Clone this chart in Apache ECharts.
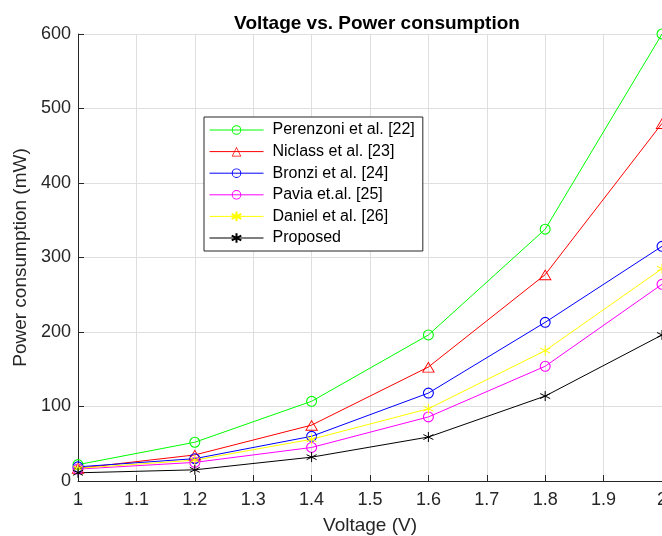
<!DOCTYPE html>
<html>
<head>
<meta charset="utf-8">
<script src="https://cdn.jsdelivr.net/npm/echarts@6/dist/echarts.min.js"></script>
<style>
  html, body { margin: 0; padding: 0; background: #fff; }
  #main { width: 662px; height: 536px; }
</style>
</head>
<body>
<div id="main"></div>
<script>
var voltage = [1.0, 1.2, 1.4, 1.6, 1.8, 2.0];

var perenzoni = [22, 52, 107, 196, 338, 600];
var niclass   = [17, 35, 75, 153, 277, 480];
var bronzi    = [19, 30, 60, 118, 213, 315];
var pavia     = [16, 25, 45, 86, 154, 264];
var daniel    = [17, 28, 56, 97, 175, 285];
var proposed  = [11, 15, 32, 59, 114, 196];

var names = ['Perenzoni et al. [22]', 'Niclass et al. [23]', 'Bronzi et al. [24]',
             'Pavia et.al. [25]', 'Daniel et al. [26]', 'Proposed'];

var font = 'Liberation Sans, Arial, sans-serif';

// hollow markers drawn as thin filled rings (matlab style, see-through)
var ring = 'path://M0,-10A10,10 0 1,1 0,10A10,10 0 1,1 0,-10ZM0,-8A8,8 0 1,0 0,8A8,8 0 1,0 0,-8Z';
var tri = 'path://M0,-10L8.66,5L-8.66,5ZM0,-7.6L-6.58,3.8L6.58,3.8Z';
var asterisk = 'path://M0,-10L0,10M-8.66,-5L8.66,5M-8.66,5L8.66,-5';

function pairs(ys) {
  return ys.map(function (y, i) { return [voltage[i], y]; });
}

function mkSeries(name, ys, color, symbol, size, stroked) {
  return {
    name: name,
    type: 'line',
    data: pairs(ys),
    symbol: symbol,
    symbolSize: size,
    showAllSymbol: true,
    clip: false,
    lineStyle: { color: color, width: 1 },
    itemStyle: stroked
      ? { color: color, borderColor: color, borderWidth: 1 }
      : { color: color, borderColor: 'rgba(0,0,0,0)', borderWidth: 0 },
    emphasis: { disabled: true }
  };
}

var chart = echarts.init(document.getElementById('main'));

var option = {
  backgroundColor: '#ffffff',
  animation: false,
  textStyle: { fontFamily: font },
  title: {
    text: 'Voltage vs. Power consumption',
    left: 372,
    textAlign: 'center',
    top: 9,
    textStyle: { fontFamily: font, fontSize: 19, fontWeight: 'bold', color: '#000' }
  },
  legend: {
    orient: 'vertical',
    left: 204,
    top: 117,
    padding: [5, 8, 5, 5],
    itemWidth: 54,
    itemHeight: 12,
    itemGap: 5.6,
    backgroundColor: '#fff',
    borderColor: '#262626',
    borderWidth: 1,
    lineStyle: { width: 1 },
    textStyle: { fontFamily: font, fontSize: 16, color: '#000', padding: [0, 0, 0, 4] },
    data: names
  },
  grid: { left: 78, right: 0, top: 34, bottom: 55, containLabel: false, outerBoundsMode: 'none' },
  xAxis: {
    type: 'value',
    min: 1,
    max: 2,
    interval: 0.1,
    name: 'Voltage (V)',
    nameLocation: 'middle',
    nameGap: 35,
    nameTextStyle: { fontFamily: font, fontSize: 19, color: '#262626' },
    axisLine: { onZero: false, lineStyle: { color: '#262626', width: 1 } },
    axisTick: { inside: true, length: 6, lineStyle: { color: '#262626' } },
    axisLabel: { fontFamily: font, fontSize: 18, color: '#262626', margin: 10 },
    splitLine: { show: true, lineStyle: { color: '#dfdfdf', width: 1 } }
  },
  yAxis: {
    type: 'value',
    min: 0,
    max: 600,
    interval: 100,
    name: 'Power consumption (mW)',
    nameLocation: 'middle',
    nameGap: 45,
    nameTextStyle: { fontFamily: font, fontSize: 19, color: '#262626' },
    axisLine: { show: true, lineStyle: { color: '#262626', width: 1 } },
    axisTick: { show: true, inside: true, length: 6, lineStyle: { color: '#262626' } },
    axisLabel: { fontFamily: font, fontSize: 18, color: '#262626', margin: 7 },
    splitLine: { show: true, lineStyle: { color: '#dfdfdf', width: 1 } }
  },
  series: [
    mkSeries(names[0], perenzoni, '#00ff00', ring, 11, false),
    mkSeries(names[1], niclass, '#ff0000', tri, [13, 11], false),
    mkSeries(names[2], bronzi, '#0000ff', ring, 11, false),
    mkSeries(names[3], pavia, '#ff00ff', ring, 11, false),
    mkSeries(names[4], daniel, '#ffff00', asterisk, 10, true),
    mkSeries(names[5], proposed, '#000000', asterisk, 10, true)
  ]
};

chart.setOption(option);
</script>
</body>
</html>
